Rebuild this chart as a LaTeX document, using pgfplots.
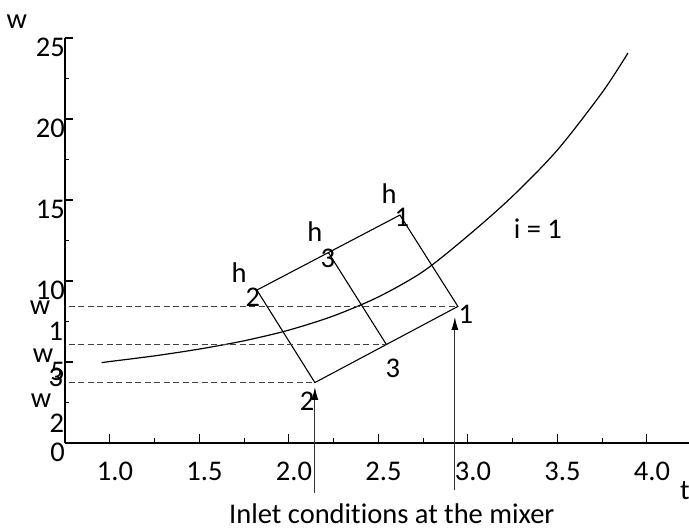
\documentclass[border=0pt]{standalone}
\usepackage{pgfplots}
\pgfplotsset{compat=1.18}
\usepackage{fontspec}
\setmainfont{Carlito}[Ligatures={NoCommon}]
\usetikzlibrary{arrows.meta}

\begin{document}
\begin{tikzpicture}[font=\fontsize{28.5}{34}\selectfont]
\begin{axis}[
  scale only axis, width=624pt, height=405pt,
  xmin=0.749, xmax=4.235, ymin=0, ymax=25,
  axis x line*=bottom, axis y line*=left,
  axis line style={line width=1.5pt, black},
  tick align=inside,
  xtick={1,1.5,...,4}, ytick={0,5,...,25},
  minor x tick num=1, minor y tick num=1,
  major tick length=8.5pt, minor tick length=4.5pt,
  every tick/.style={line width=1.1pt, black},
  /pgf/number format/assume math mode=true,
  tick label style={font=\fontsize{28.5}{34}\selectfont},
  xticklabel style={anchor=north, inner sep=0pt, yshift=-19pt, xshift=5pt,
    /pgf/number format/.cd, fixed, fixed zerofill, precision=1},
  yticklabel style={anchor=north east, inner sep=0pt},
  clip=false,
]
% saturation-type curve
\addplot[black, line width=1.2pt, smooth] coordinates {
  (0.954,4.96) (1.0,5.03) (1.25,5.38) (1.5,5.80) (1.75,6.31) (2.0,6.97)
  (2.25,7.85) (2.5,9.02) (2.75,10.59) (3.0,12.79) (3.25,15.24)
  (3.5,18.09) (3.75,21.64) (3.894,24.07)
};
% mixing parallelogram
\addplot[black, line width=1.1pt] coordinates {
  (1.821,9.44) (2.620,14.07) (2.944,8.43) (2.145,3.73) (1.821,9.44)
};
\addplot[black, line width=1.1pt] coordinates {(2.2205,11.755) (2.5445,6.08)};
% humidity levels of the streams
\addplot[black!75, line width=1.1pt, dash pattern=on 6pt off 3.5pt] coordinates {(0.77,8.43) (2.944,8.43)};
\addplot[black!75, line width=1.1pt, dash pattern=on 6pt off 3.5pt] coordinates {(0.77,6.08) (2.5445,6.08)};
\addplot[black!75, line width=1.1pt, dash pattern=on 6pt off 3.5pt] coordinates {(0.77,3.73) (2.145,3.73)};
% inlet arrows
\addplot[black!80, line width=1.1pt, -{Latex[length=13pt,width=7pt,black]}] coordinates {(2.145,-3.09) (2.145,3.46)};
\addplot[black!80, line width=1.1pt, -{Latex[length=13pt,width=7pt,black]}] coordinates {(2.927,-2.90) (2.927,7.78)};

% labels
\node at (axis cs:0.480,25.99) {w};
\node at (axis cs:4.212,-2.96) {t};
\node at (axis cs:2.575,-4.38) {Inlet conditions at the mixer};
\node at (axis cs:0.609,8.33) {w};
\node at (axis cs:0.698,6.91) {1};
\node at (axis cs:0.626,5.37) {w};
\node at (axis cs:0.698,4.07) {3};
\node at (axis cs:0.615,2.59) {w};
\node at (axis cs:0.704,1.23) {2};
\node at (axis cs:1.721,10.49) {h};
\node at (axis cs:1.799,9.01) {2};
\node at (axis cs:2.145,13.02) {h};
\node at (axis cs:2.218,11.42) {3};
\node at (axis cs:2.559,15.37) {h};
\node at (axis cs:2.631,13.95) {1};
\node at (axis cs:2.989,7.96) {1};
\node at (axis cs:2.581,4.63) {3};
\node at (axis cs:2.101,2.59) {2};
\node at (axis cs:3.391,13.21) {i = 1};
\end{axis}
\pgfresetboundingbox
\path[use as bounding box] (-65pt,-87pt) rectangle (624pt,443pt);
\end{tikzpicture}
\end{document}
